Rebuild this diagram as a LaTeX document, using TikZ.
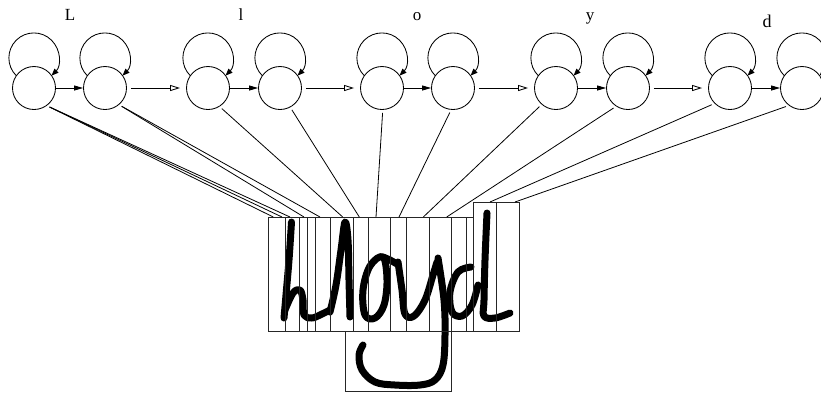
\documentclass[tikz,border=0pt]{standalone}
\usepackage{fontspec}
\setmainfont{Liberation Serif}
\usetikzlibrary{arrows.meta}
\begin{document}
\begin{tikzpicture}[x=1pt,y=-1pt,
  state/.style={circle,draw,line width=0.85pt,minimum size=43pt,inner sep=0pt},
  selfloop/.style={draw,line width=0.85pt,-{Triangle[length=7pt,width=5.5pt]}},
  inpair/.style={draw,line width=0.85pt,-{Triangle[length=9pt,width=5pt]}},
  between/.style={draw,line width=0.85pt,-{Triangle[open,length=10pt,width=6pt]},shorten <=4pt,shorten >=6pt},
  obs/.style={draw,line width=0.8pt,shorten <=3pt},
  frame/.style={draw=black!85,line width=0.8pt},
  ink/.style={draw,line width=7pt,line cap=round,line join=round},
  lab/.style={anchor=base,font=\fontsize{17}{19}\selectfont,inner sep=0pt}]
\useasboundingbox (0,0) rectangle (821,392);

% states
\node[state] (c1) at (34,88) {};
\node[state] (c2) at (105,88) {};
\node[state] (c3) at (208,88) {};
\node[state] (c4) at (280,88) {};
\node[state] (c5) at (382,88) {};
\node[state] (c6) at (453,88) {};
\node[state] (c7) at (556,88) {};
\node[state] (c8) at (628,88) {};
\node[state] (c9) at (730,88) {};
\node[state] (c10) at (802,88) {};

% self loops
\foreach \i in {1,...,10}{
  \draw[selfloop] ([shift={(-17.8,-12.4)}]c\i.center) arc[start angle=225,end angle=-45,radius=25pt];
}

% arrows
\draw[inpair] (c1) -- (c2);
\draw[inpair] (c3) -- (c4);
\draw[inpair] (c5) -- (c6);
\draw[inpair] (c7) -- (c8);
\draw[inpair] (c9) -- (c10);
\draw[between] (c2) -- (c3);
\draw[between] (c4) -- (c5);
\draw[between] (c6) -- (c7);
\draw[between] (c8) -- (c9);

% labels
\node[lab] (lL) at (70,20.5) {L};
\node[lab] (ll) at (241,20.5) {l};
\node[lab] (lo) at (417,20.5) {o};
\node[lab] (ly) at (590,20.5) {y};
\node[lab,font=\fontsize{18}{20}\selectfont] (ld) at (767,27) {d};

% handwriting
\draw[ink] plot[smooth,tension=0.6] coordinates {(291.5,222) (289,260) (286,295) (284,318)};
\draw[ink] plot[smooth,tension=0.6] coordinates {(285,310) (293,293) (300,290) (303,300) (304,315) (312,318) (322,314) (330,310)};
\draw[ink] plot[smooth,tension=0.6] coordinates {(330,312) (336,285) (341,250) (345,222) (348,240) (349,280) (350,317)};
\draw[ink] plot[smooth cycle,tension=0.6] coordinates {(383,257) (370,266) (363,290) (365,315) (375,318) (384,305) (387,280)};
\draw[ink] plot[smooth,tension=0.6] coordinates {(383,257) (390,260) (397,264)};
\draw[ink] plot[smooth,tension=0.6] coordinates {(398,262) (402,290) (405,314) (414,316) (425,300) (433,275) (437,262)};
\draw[ink] plot[smooth,tension=0.6] coordinates {(438,258) (444,300) (445,335) (443,365) (435,380) (420,385) (395,385) (375,382) (362,370) (359,355) (363,345)};
\draw[ink] plot[smooth,tension=0.6] coordinates {(471,267) (458,272) (450,292) (452,312) (462,316) (472,305) (478,285)};
\draw[ink] plot[smooth,tension=0.6] coordinates {(487,213) (485,260) (484,300) (484,316) (495,318) (510,313)};

% frames
\draw[frame] (268.3,217) rectangle (473.3,331);
\draw[frame] (473.3,202) rectangle (519.3,331);
\draw[frame] (496,202) -- (496,331);
\draw[frame] (345,331) rectangle (451,391);
\foreach \xx in {285,299.3,307.3,315,330.7,353.3,368.3,390.7,406.7,429.3,451,466.7}{
  \draw[frame] (\xx,217) -- (\xx,331);
}

% end points on the frames
\coordinate (t1) at (273.3,217);
\coordinate (t2) at (282,217);
\coordinate (t3) at (290,217);
\coordinate (t4) at (304,217);
\coordinate (t5) at (320,217);
\coordinate (t6) at (342.7,217);
\coordinate (t7) at (359.3,217);
\coordinate (t8) at (376,217);
\coordinate (t9) at (399,217);
\coordinate (t10) at (423.3,217);
\coordinate (t11) at (446.7,217);
\coordinate (t12) at (490,202);
\coordinate (t13) at (515,202);

% observation lines
\draw[obs] (c1.-54) -- (t1);
\draw[obs] (c1.-54) -- (t2);
\draw[obs] (c1.-54) -- (t3);
\draw[obs] (c2.-50) -- (t4);
\draw[obs] (c2.-50) -- (t5);
\draw[obs] (c3.-58) -- (t6);
\draw[obs] (c4.-62) -- (t7);
\draw[obs] (c5.-88) -- (t8);
\draw[obs] (c6.-95) -- (t9);
\draw[obs] (c7.-131) -- (t10);
\draw[obs] (c8.-123) -- (t11);
\draw[obs] (c9.-135) -- (t12);
\draw[obs] (c10.-127) -- (t13);
\end{tikzpicture}
\end{document}
